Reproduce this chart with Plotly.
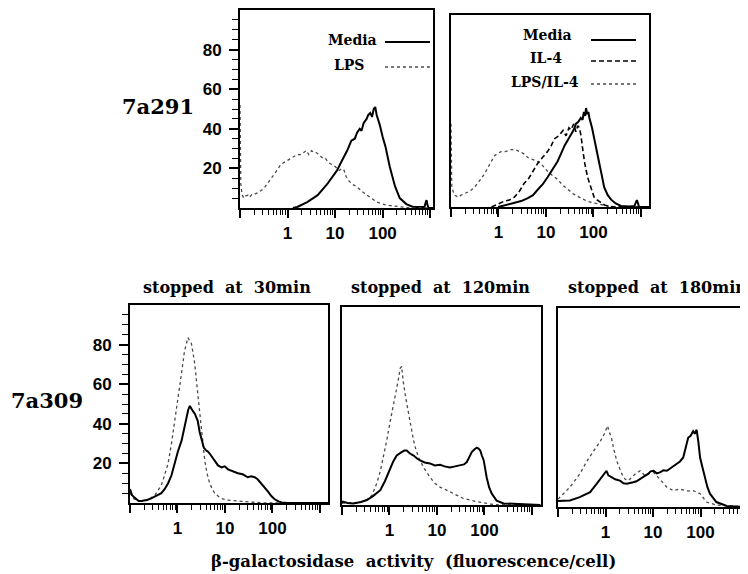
import plotly.graph_objects as go

# The page body adds an 8 px margin, so the figure is drawn 8 px smaller and
# all reference pixel positions are converted with that offset.
OFF = 8
W, H = 748 - OFF, 574 - OFF

# ---------------- data (fluorescence/cell, % of max events) ----------------
# Panel A: 7a291, Media vs LPS
A_MEDIA_X = [1.3, 1.6, 2.6, 4.3, 6.8, 11, 14, 18, 22, 26, 29, 33, 36, 40, 46, 50, 55, 60, 65, 70,
             75, 87, 100, 115, 141, 182, 229, 316, 437, 600, 760, 810, 840, 870, 920, 1200]
A_MEDIA_Y = [0, 0.5, 3, 6.5, 12, 19, 24, 29, 34, 35, 38, 40, 39, 43, 45, 47, 48, 46, 50, 51,
             47, 42, 36, 31, 21, 11, 5, 2, 0.5, 0.3, 0.5, 3, 4, 2, 0, 0]
A_LPS_X = [0.1, 0.104, 0.11, 0.12, 0.13, 0.148, 0.16, 0.18, 0.204, 0.25, 0.32, 0.4, 0.49, 0.6, 0.72,
           0.85, 1.0, 1.17, 1.4, 1.6, 1.9, 2.2, 2.5, 2.8, 3.2, 3.6, 4.0, 4.6, 5.6, 6.3, 7.2, 8.5, 10,
           12.3, 14, 15.5, 17, 19, 23, 29, 36, 47, 60, 76, 95, 120, 170, 270, 400, 1000]
A_LPS_Y = [52, 12, 7, 5, 6, 6.5, 5.5, 7, 7, 8, 10, 13, 15.7, 19, 22, 23, 24, 25, 26, 27, 27, 28, 29,
           27, 29, 28, 28, 27, 25, 25, 23, 22, 21, 19, 20, 19, 16, 14, 12, 10.7, 8.5, 6.5, 4.5, 3,
           2.2, 1.5, 1, 0.5, 0, 0]

# Panel B: 7a291, Media / IL-4 / LPS/IL-4
B_MEDIA_X = [0.98, 1.46, 2.16, 3.0, 4.15, 5.32, 6.68, 8.56, 10.8, 13.5, 17.5, 20.8, 24.6, 29.1, 33.6,
             38.5, 42.6, 48, 54.3, 58.9, 63, 67.1, 69.8, 73.9, 78.2, 82.2, 93.3, 104, 119, 133, 150,
             168, 200, 236, 294, 382, 576, 728, 787, 822, 865, 910, 1500]
B_MEDIA_Y = [0, 1, 2, 3, 4.5, 6, 8.7, 11.5, 15, 19, 23, 27, 31, 34, 37, 39, 42, 43, 45, 44, 48, 46,
             50, 47, 48, 45, 40, 35, 28, 22, 16, 10, 6, 3.7, 1.8, 0.5, 0.2, 0.5, 2.5, 3.5, 2, 0, 0]
B_IL4_X = [0.71, 0.99, 1.34, 1.69, 2.16, 2.76, 3.48, 4.21, 4.95, 5.94, 6.68, 8.44, 10.8, 12.9, 15.2,
           18.7, 22.9, 26.5, 30.5, 33.6, 38.5, 42.6, 46.6, 50.7, 54.7, 60.3, 65.7, 75.4, 87.9, 103,
           121, 145, 171, 200, 279, 1500]
B_IL4_Y = [0, 1.5, 3, 3.5, 5, 8, 12, 14, 17, 20, 22, 25, 28, 31, 34.5, 36, 38.7, 36, 40, 39, 42, 38,
           41, 40, 36, 28, 22, 15, 10, 5, 3.5, 2, 1, 0.5, 0, 0]
B_LPSIL4_X = [0.1, 0.104, 0.118, 0.142, 0.163, 0.195, 0.249, 0.315, 0.37, 0.436, 0.514, 0.593, 0.71,
              0.83, 0.97, 1.13, 1.40, 1.83, 2.28, 2.76, 3.36, 4.15, 5.32, 6.68, 8.44, 10.8, 13.5,
              17.5, 22.6, 29.1, 38.5, 54.3, 72.6, 104, 150, 200, 352, 1500]
B_LPSIL4_Y = [42, 10, 6, 5, 6, 7, 8, 10, 12, 14.5, 17, 19.5, 23, 26, 27, 28, 28, 29, 29, 28, 27, 25,
              24, 23, 21, 18, 16, 14, 11, 8.7, 6.5, 4.5, 3, 2, 1, 0.5, 0, 0]

# Panel C: 7a309, stopped at 30min
C_SOL_X = [0.1, 0.11, 0.121, 0.152, 0.174, 0.227, 0.281, 0.357, 0.457, 0.535, 0.635, 0.748, 0.863,
           1.02, 1.22, 1.39, 1.54, 1.68, 1.82, 1.96, 2.10, 2.33, 2.67, 2.92, 3.16, 3.58, 4.03, 4.37,
           4.76, 5.41, 6.05, 7.13, 8.47, 9.87, 11.6, 14.7, 18.7, 23.7, 30.2, 35.5, 42.2, 48.8, 57.7,
           67.6, 80.8, 94.8, 110, 134, 155, 204, 1500]
C_SOL_Y = [7, 4, 3, 1, 1, 1.5, 2.3, 3.5, 5, 7, 10, 14, 20, 26, 31.5, 38, 43, 47, 49, 48, 46.5, 45,
           41.5, 36, 33, 28, 26.5, 26, 25, 23, 21.5, 19, 18, 18.5, 17, 16, 15, 14.5, 13, 13.5, 13,
           12, 10, 8, 5.7, 3.5, 2, 0.8, 0.3, 0, 0]
C_DOT_X = [0.1, 0.121, 0.163, 0.238, 0.336, 0.457, 0.535, 0.635, 0.748, 0.863, 0.975, 1.10, 1.24,
           1.40, 1.54, 1.66, 1.80, 1.96, 2.15, 2.32, 2.50, 2.67, 2.92, 3.16, 3.46, 3.75, 4.19, 4.76,
           5.41, 6.05, 7.13, 8.47, 10.9, 15.8, 25, 42.2, 64.9, 1500]
C_DOT_Y = [5, 2, 1, 1.5, 4, 9, 14, 20, 30, 40, 48, 56.5, 67, 76.5, 81, 83.5, 82, 80.7, 75, 70, 62,
           55, 46, 38, 30, 21.5, 15, 10, 7, 5, 3.5, 2.3, 1.5, 1.2, 0.8, 0.3, 0, 0]

# Panel D: stopped at 120min
D_SOL_X = [0.1, 0.105, 0.13, 0.174, 0.25, 0.334, 0.45, 0.64, 0.8, 1.04, 1.2, 1.42, 1.6, 1.8, 2.05,
           2.3, 2.7, 3.22, 3.8, 4.41, 5.5, 7.13, 9, 11.6, 14.5, 18.7, 24, 31, 37, 42.5, 48, 54, 61,
           68.7, 75, 81.5, 88, 96.4, 104, 111, 125, 142, 180, 253, 1500]
D_SOL_Y = [1, 1.7, 1, 0.8, 1.5, 2.5, 4.5, 7.5, 12, 19, 22, 25, 26, 26.7, 27.5, 27.5, 26, 25, 23.5,
           22.5, 21.5, 21, 20, 20.3, 19.5, 19, 19.5, 20, 20.5, 21.7, 24, 26.7, 28, 29, 28.5, 27.5,
           25, 22.5, 18, 14, 9, 5.8, 2.2, 0.8, 0]
D_DOT_X = [0.1, 0.17, 0.25, 0.334, 0.43, 0.54, 0.64, 0.74, 0.88, 1.04, 1.2, 1.42, 1.55, 1.68, 1.8,
           1.94, 2.2, 2.53, 2.85, 3.22, 3.6, 4.1, 5.21, 7.13, 9, 11.6, 14.5, 18.7, 26, 35.9, 50,
           68.7, 132, 200, 1500]
D_DOT_Y = [1, 1, 1.5, 2.5, 5, 11, 17, 24, 33, 42.5, 51, 59, 64, 69, 70, 62.5, 54, 46, 39, 32.5, 28,
           24, 19, 14, 11, 9, 8, 6.7, 5, 3.3, 2.5, 1.7, 0.5, 0, 0]

# Panel E: stopped at 180min
E_SOL_X = [0.1, 0.11, 0.178, 0.287, 0.475, 0.65, 0.91, 1.05, 1.15, 1.33, 1.6, 2.01, 2.4, 2.81, 3.3,
           3.84, 4.5, 5.37, 6.5, 7.87, 8.9, 10.3, 12, 14, 16.5, 19.6, 25, 31.7, 37, 43.3, 49, 55, 62,
           70, 76, 82.8, 90, 98, 110, 124, 140, 158, 216, 357, 1000]
E_SOL_Y = [3, 3, 3.3, 5, 7.5, 11.7, 16.7, 18.3, 16, 15, 14, 13.3, 12, 11.7, 12, 12.5, 13, 14, 15.5,
           16.7, 18, 18.3, 17, 17.5, 18.5, 18.3, 20, 21.7, 23, 25, 30, 35, 36, 38.3, 37, 39, 33, 25,
           20, 15, 10, 6.7, 2.5, 0.5, 0]
E_DOT_X = [0.1, 0.11, 0.178, 0.287, 0.402, 0.55, 0.77, 0.95, 1.05, 1.1, 1.2, 1.33, 1.5, 1.74, 2.21,
           2.6, 3.02, 3.6, 4.23, 5.37, 6.82, 8.5, 10.3, 14, 19.6, 26.8, 35, 43.3, 55, 70, 85, 98,
           134, 216, 1000]
E_DOT_Y = [4, 5, 10, 16.7, 23, 28, 33, 37, 40, 41, 38, 35, 29, 23, 16.7, 14, 13.3, 15, 16.7, 18.3,
           15.8, 17, 17.5, 14, 10, 8.3, 9, 8.7, 8, 8.3, 7.5, 6.7, 2.5, 1, 0]

X_TICKVALS = [0.1, 1, 10, 100, 1000]
X_TICKTEXT = ["", "1", "10", "100", ""]
Y_TICKVALS = [20, 40, 60, 80]
Y_TICKTEXT = ["20", "40", "60", "80"]

PANEL_TITLES = ["stopped  at  30min", "stopped  at  120min", "stopped  at  180min"]
ROW_LABELS = ["7a291", "7a309"]
X_TITLE = "β-galactosidase  activity  (fluorescence/cell)"
LEGEND_A = ["Media", "LPS"]
LEGEND_B = ["Media", "IL-4", "LPS/IL-4"]

# ---------------- styles / layout ----------------
SERIF = "DejaVu Serif"
SANS = "Liberation Sans"
SOLID = dict(color="black", width=2)
DOT = dict(color="#4a4a4a", width=1.3, dash="dot")
DASH = dict(color="black", width=1.6, dash="5px,3px")


def px(x):
    return (x - OFF) / W


def py(y):
    return 1 - (y - OFF) / H


# reference pixel boxes: left, right, top, bottom ; x log range ; y range
PANELS = [
    dict(box=(240, 433, 10, 208), xr=[-1, 3.06], yr=[0, 100], yt=True, right=True),
    dict(box=(451, 649, 15, 207), xr=[-1, 3.17], yr=[0, 97], yt=False, right=True),
    dict(box=(130, 328, 305, 503), xr=[-1, 3.17], yr=[0, 100], yt=True, right=True),
    dict(box=(342, 541, 307, 505), xr=[-1, 3.19], yr=[0, 100], yt=False, right=True),
    dict(box=(558, 748, 308, 507), xr=[-1, 3.0], yr=[0, 100.5], yt=False, right=False),
]

SERIES = [
    [(A_MEDIA_X, A_MEDIA_Y, SOLID), (A_LPS_X, A_LPS_Y, DOT)],
    [(B_LPSIL4_X, B_LPSIL4_Y, DOT), (B_IL4_X, B_IL4_Y, DASH), (B_MEDIA_X, B_MEDIA_Y, SOLID)],
    [(C_DOT_X, C_DOT_Y, DOT), (C_SOL_X, C_SOL_Y, SOLID)],
    [(D_DOT_X, D_DOT_Y, DOT), (D_SOL_X, D_SOL_Y, SOLID)],
    [(E_DOT_X, E_DOT_Y, DOT), (E_SOL_X, E_SOL_Y, SOLID)],
]

fig = go.Figure()
x_minor = [m * 10 ** e for e in range(-1, 3) for m in range(2, 10)]
y_minor = [v for v in range(5, 100, 5) if v % 20 != 0]

for i, (p, ser) in enumerate(zip(PANELS, SERIES)):
    n = "" if i == 0 else str(i + 1)
    l, r, t, b = p["box"]
    for xs, ys, st in ser:
        fig.add_trace(go.Scatter(x=xs, y=ys, mode="lines", line=st, showlegend=False,
                                 hoverinfo="skip", xaxis="x" + n, yaxis="y" + n))
    fig.layout["xaxis" + n] = dict(
        type="log", range=p["xr"], domain=[px(l), min(1.0, px(r))], anchor="y" + n,
        showgrid=False, zeroline=False, showline=True, linecolor="black", linewidth=2,
        mirror=True, ticks="outside", ticklen=8, tickwidth=1.6, tickcolor="black",
        tickvals=X_TICKVALS, ticktext=X_TICKTEXT, ticklabelstandoff=1,
        tickfont=dict(family=SANS, size=17, color="black", weight="bold"),
        minor=dict(tickvals=x_minor, ticks="outside", ticklen=5, tickwidth=1.2, tickcolor="black"),
    )
    yax = dict(
        range=p["yr"], domain=[py(b), py(t)], anchor="x" + n,
        showgrid=False, zeroline=False, showline=True, linecolor="black", linewidth=2,
        mirror=p["right"],
    )
    if p["yt"]:
        yax.update(ticks="outside", ticklen=9, tickwidth=1.6, tickcolor="black",
                   tickvals=Y_TICKVALS, ticktext=Y_TICKTEXT, ticklabelstandoff=4,
                   tickfont=dict(family=SANS, size=17, color="black", weight="bold"),
                   minor=dict(tickvals=y_minor, ticks="outside", ticklen=6, tickwidth=1.2,
                              tickcolor="black"))
    else:
        yax.update(showticklabels=False, ticks="")
    fig.layout["yaxis" + n] = yax

annotations = []
shapes = []


def txt(text, x, y, size, anchor="center", weight="bold"):
    annotations.append(dict(text=text, x=px(x), y=py(y), xref="paper", yref="paper",
                            xanchor=anchor, yanchor="middle", showarrow=False,
                            font=dict(family=SERIF, size=size, color="black", weight=weight)))


def seg(x0, x1, y, st):
    shapes.append(dict(type="line", xref="paper", yref="paper", x0=px(x0), x1=px(x1),
                       y0=py(y), y1=py(y), line=st))


# row labels and titles
txt(ROW_LABELS[0], 158, 106, 21)
txt(ROW_LABELS[1], 47, 400, 21)
txt(PANEL_TITLES[0], 227, 287, 16)
txt(PANEL_TITLES[1], 440, 287, 16)
txt(PANEL_TITLES[2], 657, 287, 16)
txt(X_TITLE, 414, 561, 16.5)

# legends
txt(LEGEND_A[0], 352, 40, 14)
txt(LEGEND_A[1], 349, 65, 14)
seg(385, 430, 42, SOLID)
seg(385, 430, 67, DOT)
txt(LEGEND_B[0], 547, 35, 14)
txt(LEGEND_B[1], 546, 58, 14)
txt(LEGEND_B[2], 545, 82, 14)
seg(591, 636, 40, SOLID)
seg(591, 636, 61, DASH)
seg(591, 636, 84, DOT)

fig.update_layout(width=W, height=H, margin=dict(l=0, r=0, t=0, b=0),
                  paper_bgcolor="white", plot_bgcolor="white",
                  annotations=annotations, shapes=shapes, showlegend=False)

fig.write_html("out.html")
